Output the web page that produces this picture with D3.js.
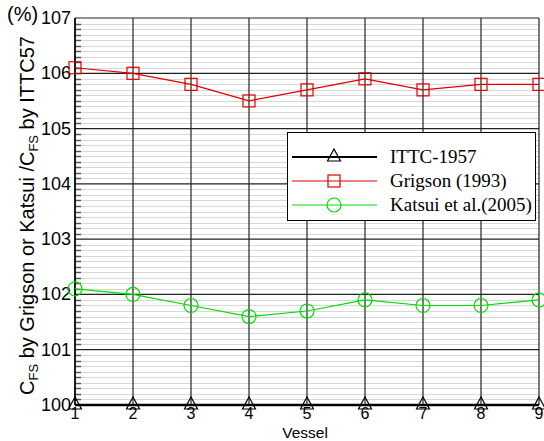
<!DOCTYPE html>
<html>
<head>
<meta charset="utf-8">
<script src="https://cdn.jsdelivr.net/npm/d3@7"></script>
<style>
  body { margin: 0; background: #fff; }
  svg { display: block; }
</style>
</head>
<body>
<div id="chart"></div>
<script>
const vessels = [1, 2, 3, 4, 5, 6, 7, 8, 9];
const ittc = [100, 100, 100, 100, 100, 100, 100, 100, 100];
const grigson = [106.1, 106.0, 105.8, 105.5, 105.7, 105.9, 105.7, 105.8, 105.8];
const katsui = [102.1, 102.0, 101.8, 101.6, 101.7, 101.9, 101.8, 101.8, 101.9];
const yTicks = [100, 101, 102, 103, 104, 105, 106, 107];

const width = 544, height = 441;
const margin = { left: 75, right: 5, top: 18, bottom: 36 };

const svg = d3.select("#chart").append("svg")
  .attr("width", width)
  .attr("height", height);

const x = d3.scaleLinear().domain([1, 9]).range([margin.left, width - margin.right]);
const y = d3.scaleLinear().domain([100, 107]).range([height - margin.bottom, margin.top]);

// minor grid (0.1 step)
const minor = d3.range(1, 70).map(i => 100 + i / 10).filter(v => Math.abs(v - Math.round(v)) > 1e-6);
svg.append("g").selectAll("line")
  .data(minor).join("line")
  .attr("x1", x(1)).attr("x2", x(9))
  .attr("y1", d => Math.round(y(d)) + 0.5).attr("y2", d => Math.round(y(d)) + 0.5)
  .attr("stroke", "#d8d8d8").attr("stroke-width", 1);

// minor ticks on left
svg.append("g").selectAll("line")
  .data(minor).join("line")
  .attr("x1", x(1)).attr("x2", x(1) + 6)
  .attr("y1", d => Math.round(y(d)) + 0.5).attr("y2", d => Math.round(y(d)) + 0.5)
  .attr("stroke", "#555").attr("stroke-width", 1.5);

// major horizontal grid
svg.append("g").selectAll("line")
  .data(yTicks).join("line")
  .attr("x1", x(1)).attr("x2", x(9))
  .attr("y1", d => y(d)).attr("y2", d => y(d))
  .attr("stroke", "#222").attr("stroke-width", 1.2);

// vertical grid
svg.append("g").selectAll("line")
  .data(vessels).join("line")
  .attr("x1", d => x(d)).attr("x2", d => x(d))
  .attr("y1", y(107)).attr("y2", y(100))
  .attr("stroke", "#222").attr("stroke-width", 1.2);

// axes frame
svg.append("line").attr("x1", x(1)).attr("x2", x(9)).attr("y1", y(100)).attr("y2", y(100))
  .attr("stroke", "#000").attr("stroke-width", 2.5);
svg.append("line").attr("x1", x(1)).attr("x2", x(1)).attr("y1", y(107)).attr("y2", y(100))
  .attr("stroke", "#000").attr("stroke-width", 1.5);

// y tick labels
svg.append("g").selectAll("text")
  .data(yTicks).join("text")
  .attr("x", x(1) - 4).attr("y", d => y(d) + 6)
  .attr("text-anchor", "end")
  .attr("font-family", "Liberation Sans, Arial, sans-serif")
  .attr("font-size", 18)
  .text(d => d);

// x tick labels
svg.append("g").selectAll("text")
  .data(vessels).join("text")
  .attr("x", d => x(d)).attr("y", y(100) + 14)
  .attr("text-anchor", "middle")
  .attr("font-family", "Liberation Sans, Arial, sans-serif")
  .attr("font-size", 16)
  .text(d => d);

svg.append("text")
  .attr("x", 305).attr("y", 437.5)
  .attr("text-anchor", "middle")
  .attr("font-family", "Liberation Sans, Arial, sans-serif")
  .attr("font-size", 15.5)
  .text("Vessel");

svg.append("text")
  .attr("x", 7).attr("y", 21)
  .attr("font-family", "Liberation Sans, Arial, sans-serif")
  .attr("font-size", 20)
  .text("(%)");

// y axis title
const yt = svg.append("text")
  .attr("transform", `translate(34,${(y(100) + y(107)) / 2 + 4}) rotate(-90)`)
  .attr("text-anchor", "middle")
  .attr("font-family", "Liberation Sans, Arial, sans-serif")
  .attr("font-size", 20);
yt.append("tspan").text("C");
yt.append("tspan").attr("font-size", 13).attr("dy", 4).text("FS");
yt.append("tspan").attr("dy", -4).text(" by Grigson or Katsui /C");
yt.append("tspan").attr("font-size", 13).attr("dy", 4).text("FS");
yt.append("tspan").attr("dy", -4).text(" by ITTC57");

const series = [
  { name: "ITTC-1957", values: ittc, color: "#000", marker: "triangle", width: 2 },
  { name: "Grigson (1993)", values: grigson, color: "#e00000", marker: "square", width: 1.2 },
  { name: "Katsui et al.(2005)", values: katsui, color: "#00dd00", marker: "circle", width: 1.2 }
];

const line = d3.line().x((d, i) => x(vessels[i])).y(d => y(d));

function drawMarker(g, type, cx, cy, color) {
  if (type === "triangle") {
    g.append("path")
      .attr("d", `M${cx},${cy - 8}L${cx + 6.5},${cy + 4}L${cx - 6.5},${cy + 4}Z`)
      .attr("fill", "none").attr("stroke", color).attr("stroke-width", 1.2);
  } else if (type === "square") {
    g.append("rect")
      .attr("x", cx - 6).attr("y", cy - 6).attr("width", 12).attr("height", 12)
      .attr("fill", "none").attr("stroke", color).attr("stroke-width", 1.2);
  } else {
    g.append("circle")
      .attr("cx", cx).attr("cy", cy).attr("r", 7)
      .attr("fill", "none").attr("stroke", color).attr("stroke-width", 1.2);
  }
}

series.forEach(s => {
  const g = svg.append("g");
  g.append("path")
    .attr("d", line(s.values))
    .attr("fill", "none").attr("stroke", s.color).attr("stroke-width", s.width);
  s.values.forEach((v, i) => drawMarker(g, s.marker, x(vessels[i]), y(v), s.color));
});

// legend
const lg = svg.append("g");
lg.append("rect")
  .attr("x", 287.5).attr("y", 132.5).attr("width", 248).attr("height", 88)
  .attr("fill", "#fff").attr("stroke", "#000").attr("stroke-width", 1);
series.forEach((s, i) => {
  const ly = 157 + i * 24;
  lg.append("line").attr("x1", 292).attr("x2", 377).attr("y1", ly).attr("y2", ly)
    .attr("stroke", s.color).attr("stroke-width", s.width);
  drawMarker(lg, s.marker, 334, ly, s.color);
  lg.append("text")
    .attr("x", 390).attr("y", ly + 6)
    .attr("font-family", "Liberation Serif, Times New Roman, serif")
    .attr("font-size", 19)
    .text(s.name);
});
</script>
</body>
</html>
